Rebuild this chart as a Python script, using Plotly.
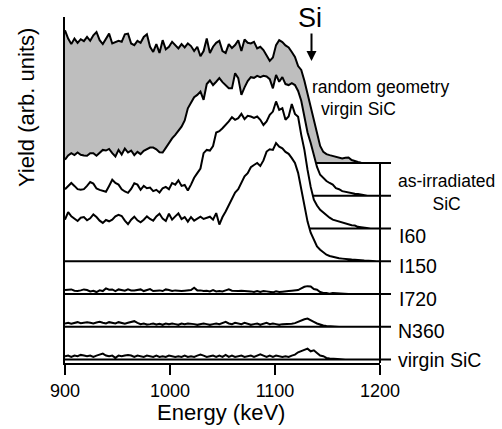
import plotly.graph_objects as go

# ---------------- data ----------------
energy_kev = list(range(900, 1200, 3))          # channel energies (keV)
tick_values = [900, 1000, 1100, 1200]
tick_labels = ["900", "1000", "1100", "1200"]

# spectra (yield, arb. units, relative to own baseline)
random_virgin = [4.05, 3.80, 3.63, 3.80, 3.67, 3.78, 3.72, 3.85, 3.73, 3.90,
                 4.00, 3.75, 3.63, 3.80, 3.95, 3.65, 3.70, 3.73, 3.70, 3.93,
                 3.95, 3.65, 3.60, 3.73, 3.67, 3.85, 3.93, 3.55, 3.39, 3.63,
                 3.36, 3.75, 3.47, 3.55, 3.70, 3.60, 3.50, 3.63, 3.53, 3.65,
                 3.57, 3.42, 3.55, 3.26, 3.42, 3.80, 3.36, 3.55, 3.67, 3.73,
                 3.42, 3.36, 3.63, 3.51, 3.60, 3.75, 3.42, 3.77, 3.67, 3.65,
                 3.70, 3.50, 3.55, 3.45, 3.26, 3.12, 3.22, 3.60, 3.75, 3.69,
                 3.59, 3.53, 3.39, 3.24, 2.96, 2.84, 2.51, 2.10, 1.72, 1.26,
                 0.85, 0.52, 0.34, 0.27, 0.24, 0.21, 0.19, 0.15, 0.14, 0.16,
                 0.17, 0.09, 0.05, 0.03, 0.01, 0.00, 0.00, 0.00, 0.00, 0.00]

as_irradiated = [1.10, 1.23, 1.30, 1.24, 1.32, 1.25, 1.23, 1.22, 1.30, 1.30,
                 1.22, 1.32, 1.40, 1.38, 1.43, 1.30, 1.20, 1.40, 1.26, 1.44,
                 1.32, 1.38, 1.24, 1.34, 1.27, 1.37, 1.42, 1.47, 1.47, 1.42,
                 1.33, 1.32, 1.46, 1.61, 1.75, 1.86, 1.99, 2.11, 2.30, 2.67,
                 2.84, 3.01, 3.08, 3.18, 2.93, 3.41, 3.52, 3.38, 3.48, 3.59,
                 3.47, 3.36, 3.28, 3.28, 3.74, 3.59, 3.08, 3.31, 3.50, 3.62,
                 3.60, 3.66, 3.62, 3.66, 3.64, 3.56, 3.28, 3.69, 3.48, 3.62,
                 3.41, 3.38, 3.44, 3.38, 3.20, 2.90, 2.42, 1.93, 1.61, 1.22,
                 0.88, 0.64, 0.53, 0.45, 0.39, 0.34, 0.23, 0.20, 0.14, 0.12,
                 0.08, 0.08, 0.06, 0.05, 0.03, 0.01, 0.00, 0.00, 0.00, 0.00]

i60 = [1.20, 1.31, 1.39, 1.30, 1.20, 1.18, 1.20, 1.30, 1.42, 1.37,
       1.22, 1.18, 1.16, 1.12, 1.30, 1.49, 1.39, 1.34, 1.20, 1.13,
       1.09, 1.21, 1.38, 1.34, 1.18, 1.30, 1.23, 1.25, 1.14, 1.18,
       1.10, 1.23, 1.27, 1.20, 1.39, 1.34, 1.47, 1.30, 1.33, 1.16,
       1.34, 1.55, 1.69, 1.83, 2.30, 2.40, 2.38, 2.52, 2.93, 2.97,
       3.06, 3.16, 3.27, 3.40, 3.32, 3.37, 3.50, 3.34, 3.44, 3.42,
       3.38, 3.42, 3.32, 3.16, 3.27, 3.47, 3.57, 3.88, 3.62, 3.67,
       3.32, 3.42, 3.80, 3.50, 3.41, 2.86, 2.40, 1.79, 1.27, 0.88,
       0.70, 0.57, 0.48, 0.39, 0.33, 0.27, 0.24, 0.21, 0.18, 0.15,
       0.12, 0.10, 0.09, 0.05, 0.04, 0.02, 0.01, 0.00, 0.00, 0.00]

i150 = [1.27, 1.50, 1.37, 1.29, 1.23, 1.33, 1.35, 1.25, 1.31, 1.43,
        1.35, 1.24, 1.17, 1.26, 1.22, 1.27, 1.37, 1.42, 1.38, 1.24,
        1.13, 1.27, 1.36, 1.25, 1.19, 1.27, 1.37, 1.29, 1.24, 1.37,
        1.45, 1.30, 1.23, 1.45, 1.27, 1.37, 1.46, 1.29, 1.35, 1.21,
        1.35, 1.24, 1.31, 1.36, 1.29, 1.33, 1.36, 1.27, 1.47, 1.12,
        1.35, 1.52, 1.73, 1.90, 2.10, 2.20, 2.41, 2.59, 2.69, 2.87,
        2.94, 3.00, 2.91, 3.08, 3.35, 3.42, 3.40, 3.61, 3.50, 3.45,
        3.34, 3.28, 3.15, 3.00, 2.70, 2.18, 1.70, 1.21, 0.87, 0.63,
        0.45, 0.35, 0.26, 0.20, 0.16, 0.13, 0.11, 0.09, 0.08, 0.06,
        0.06, 0.05, 0.05, 0.04, 0.03, 0.02, 0.01, 0.00, 0.00, 0.00]

i720 = [0.12, 0.13, 0.14, 0.10, 0.09, 0.11, 0.14, 0.12, 0.08, 0.10,
        0.06, 0.11, 0.09, 0.17, 0.13, 0.14, 0.09, 0.14, 0.12, 0.10,
        0.14, 0.11, 0.11, 0.13, 0.14, 0.09, 0.12, 0.15, 0.09, 0.10,
        0.11, 0.09, 0.14, 0.12, 0.09, 0.11, 0.09, 0.09, 0.10, 0.10,
        0.12, 0.19, 0.11, 0.11, 0.09, 0.10, 0.08, 0.12, 0.08, 0.09,
        0.08, 0.11, 0.14, 0.10, 0.09, 0.09, 0.10, 0.10, 0.09, 0.08,
        0.06, 0.09, 0.06, 0.09, 0.08, 0.06, 0.05, 0.08, 0.06, 0.07,
        0.09, 0.09, 0.10, 0.10, 0.12, 0.17, 0.22, 0.24, 0.23, 0.15,
        0.13, 0.06, 0.03, 0.03, 0.01, 0.03, 0.02, 0.01, 0.02, 0.01,
        0.00, 0.00, 0.00, 0.00, 0.00, 0.00, 0.00, 0.00, 0.00, 0.00]

n360 = [0.10, 0.12, 0.09, 0.12, 0.14, 0.11, 0.12, 0.14, 0.12, 0.10,
        0.13, 0.15, 0.12, 0.10, 0.14, 0.12, 0.10, 0.14, 0.12, 0.09,
        0.12, 0.15, 0.17, 0.12, 0.08, 0.10, 0.07, 0.08, 0.10, 0.07,
        0.09, 0.06, 0.10, 0.08, 0.10, 0.08, 0.06, 0.10, 0.08, 0.10,
        0.10, 0.08, 0.06, 0.08, 0.10, 0.08, 0.06, 0.08, 0.10, 0.08,
        0.12, 0.15, 0.10, 0.08, 0.12, 0.10, 0.08, 0.12, 0.08, 0.06,
        0.08, 0.10, 0.06, 0.10, 0.12, 0.08, 0.10, 0.08, 0.06, 0.08,
        0.08, 0.10, 0.09, 0.11, 0.15, 0.20, 0.23, 0.25, 0.21, 0.15,
        0.10, 0.06, 0.04, 0.02, 0.01, 0.01, 0.00, 0.00, 0.00, 0.00,
        0.00, 0.00, 0.00, 0.00, 0.00, 0.00, 0.00, 0.00, 0.00, 0.00]

virgin = [0.10, 0.12, 0.08, 0.12, 0.10, 0.14, 0.12, 0.10, 0.12, 0.08,
          0.12, 0.15, 0.18, 0.12, 0.10, 0.12, 0.05, 0.12, 0.10, 0.12,
          0.14, 0.12, 0.08, 0.12, 0.10, 0.08, 0.12, 0.10, 0.08, 0.12,
          0.08, 0.10, 0.08, 0.12, 0.10, 0.08, 0.10, 0.08, 0.12, 0.08,
          0.10, 0.08, 0.12, 0.15, 0.12, 0.08, 0.10, 0.12, 0.08, 0.12,
          0.08, 0.14, 0.08, 0.12, 0.08, 0.10, 0.12, 0.08, 0.10, 0.12,
          0.08, 0.12, 0.16, 0.12, 0.08, 0.12, 0.08, 0.12, 0.10, 0.08,
          0.10, 0.08, 0.12, 0.15, 0.22, 0.26, 0.30, 0.33, 0.25, 0.28,
          0.20, 0.12, 0.10, 0.05, 0.03, 0.02, 0.02, 0.01, 0.01, 0.00,
          0.00, 0.00, 0.00, 0.00, 0.00, 0.00, 0.00, 0.00, 0.00, 0.00]

spectra = [random_virgin, as_irradiated, i60, i150, i720, n360, virgin]
baseline_offsets = [6, 5, 4, 3, 2, 1, 0]
fill_colors = ["#bebebe", "white", "white", "white", "white", "white", "white"]

# ---------------- layout geometry ----------------
W, H = 502, 429
ML, MR, MT, MB = 65, 122, 17, 66
PW, PH = W - ML - MR, H - MT - MB
Y_MIN, Y_MAX = -0.107, 10.458
X_MIN, X_MAX = 900, 1200


def paper(px, py):
    return (px - ML) / PW, (H - MB - py) / PH


FONT = "Liberation Sans, Arial, Helvetica, sans-serif"

fig = go.Figure()

for vals, off, fc in zip(spectra, baseline_offsets, fill_colors):
    xs = energy_kev + [X_MAX, X_MIN]
    ys = [v + off for v in vals] + [off, off]
    fig.add_trace(go.Scatter(
        x=xs, y=ys, mode="lines", fill="toself", fillcolor=fc,
        line=dict(color="black", width=2), hoverinfo="skip", showlegend=False))

shapes = []
# right vertical bar
shapes.append(dict(type="line", xref="paper", yref="y", x0=1, x1=1,
                   y0=Y_MIN, y1=baseline_offsets[0],
                   line=dict(color="black", width=2)))
# right ticks at each baseline
for off in baseline_offsets:
    shapes.append(dict(type="line", xref="paper", yref="y", x0=1,
                       x1=1 + 11 / PW, y0=off, y1=off,
                       line=dict(color="black", width=2)))

annotations = []


def add_text(text, px, py, size, xanchor="center", angle=0):
    x, y = paper(px, py)
    annotations.append(dict(text=text, x=x, y=y, xref="paper", yref="paper",
                            xanchor=xanchor, yanchor="middle", showarrow=False,
                            textangle=angle, align="center",
                            font=dict(family=FONT, size=size, color="black")))


add_text("Si", 310, 18, 27)
add_text("random geometry", 380, 87, 17.5)
add_text("virgin SiC", 358.5, 109, 17.5)
add_text("as-irradiated<br>SiC", 446.5, 192, 17.5)
add_text("I60", 397, 236, 19.5, xanchor="left")
add_text("I150", 397, 266, 19.5, xanchor="left")
add_text("I720", 397, 299, 19.5, xanchor="left")
add_text("N360", 396, 331, 19.5, xanchor="left")
add_text("virgin SiC", 396, 360, 19.5, xanchor="left")
add_text("Energy (keV)", 221, 412, 22)
add_text("Yield (arb. units)", 27, 108, 22, angle=-90)

# arrow under "Si"
ax_, ay_ = paper(311.5, 61)
annotations.append(dict(text="", x=ax_, y=ay_, xref="paper", yref="paper",
                        showarrow=True, ax=0, ay=-29, arrowhead=2,
                        arrowsize=1, arrowwidth=2, arrowcolor="black",
                        standoff=0))

fig.update_layout(
    width=W, height=H,
    margin=dict(l=ML, r=MR, t=MT, b=MB, autoexpand=False),
    paper_bgcolor="white", plot_bgcolor="white",
    shapes=shapes, annotations=annotations,
    xaxis=dict(range=[X_MIN, X_MAX], tickvals=tick_values, ticktext=tick_labels,
               ticks="outside", ticklen=10, tickwidth=2, tickcolor="black",
               showline=True, linewidth=2, linecolor="black",
               showgrid=False, zeroline=False, automargin=False,
               tickfont=dict(family=FONT, size=18, color="black")),
    yaxis=dict(range=[Y_MIN, Y_MAX], showticklabels=False, ticks="",
               showline=True, linewidth=2, linecolor="black",
               showgrid=False, zeroline=False, automargin=False),
)

fig.write_html("out.html",
               config={"displayModeBar": False, "staticPlot": True},
               post_script="document.body.style.margin='0';"
                           "document.body.style.overflow='hidden';")
